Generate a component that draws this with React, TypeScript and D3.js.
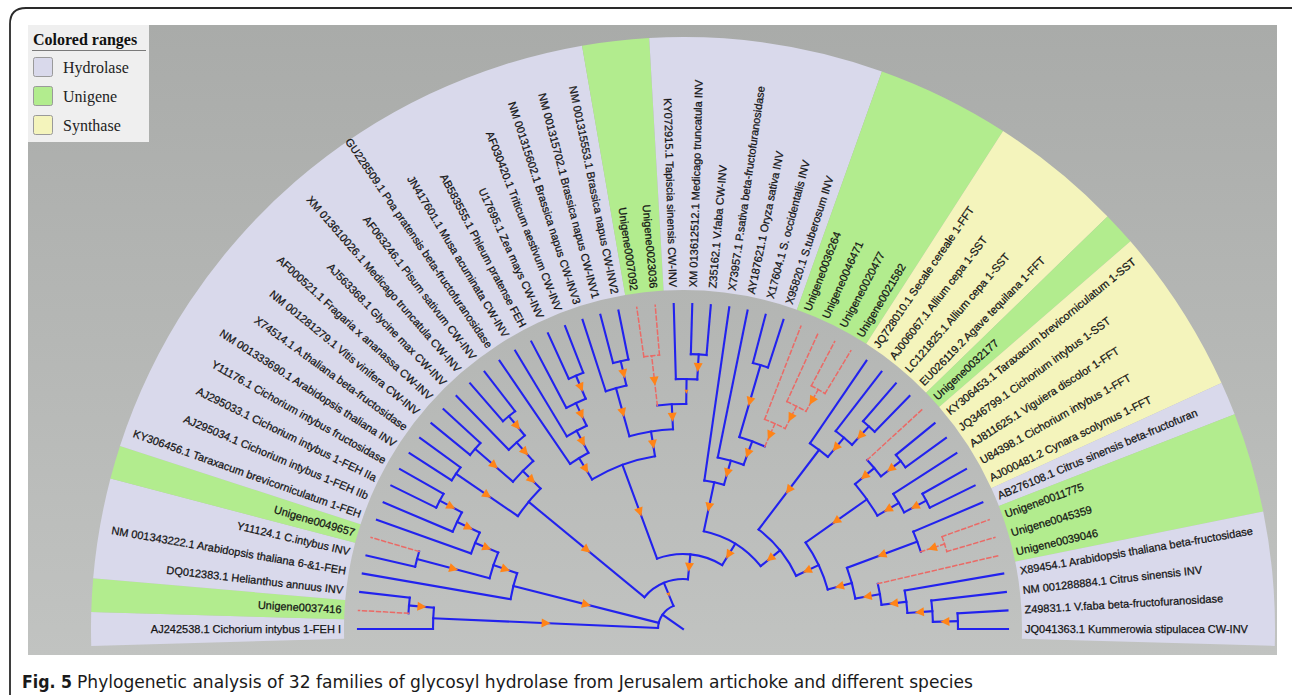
import React, { useMemo } from 'react';
import * as d3 from 'd3';

const W = 1292;
const H = 695;
const CX = 683;
const CY = 629;

// Leaf labels, in order around the fan (left horizontal -> over the top -> right horizontal)
const leafNames = [
  'AJ242538.1 Cichorium intybus 1-FEH I',
  'Unigene0037416',
  'DQ012383.1 Helianthus annuus INV',
  'NM 001343222.1 Arabidopsis thaliana 6-&1-FEH',
  'Y11124.1 C.intybus INV',
  'Unigene0049657',
  'KY306456.1 Taraxacum brevicorniculatum 1-FEH',
  'AJ295034.1 Cichorium intybus 1-FEH IIb',
  'AJ295033.1 Cichorium intybus 1-FEH IIa',
  'Y11176.1 Cichorium intybus fructosidase',
  'NM 001333690.1 Arabidopsis thaliana INV',
  'X74514.1 A.thaliana beta-fructosidase',
  'NM 001281279.1 Vitis vinifera CW-INV',
  'AF000521.1 Fragaria x ananassa CW-INV',
  'AJ563368.1 Glycine max CW-INV',
  'XM 013610026.1 Medicago truncatula CW-INV',
  'AF063246.1 Pisum sativum CW-INV',
  'GU228509.1 Poa pratensis beta-fructofuranosidase',
  'JN417601.1 Musa acuminata CW-INV',
  'AB583555.1 Phleum pratense FEH',
  'U17695.1 Zea mays CW-INV',
  'AF030420.1 Triticum aestivum CW-INV',
  'NM 001315602.1 Brassica napus CW-INV3',
  'NM 001315702.1 Brassica napus CW-INV1',
  'NM 001315553.1 Brassica napus CW-INV2',
  'Unigene0007092',
  'Unigene0023036',
  'KY072915.1 Tapiscia sinensis CW-INV',
  'XM 013612512.1 Medicago truncatula INV',
  'Z35162.1 V.faba CW-INV',
  'X73957.1 P.sativa beta-fructofuranosidase',
  'AY187621.1 Oryza sativa INV',
  'X17604.1 S. occidentalis INV',
  'X95820.1 S.tuberosum INV',
  'Unigene0036264',
  'Unigene0046471',
  'Unigene0020477',
  'Unigene0021582',
  'JQ728010.1 Secale cereale 1-FFT',
  'AJ006067.1 Allium cepa 1-SST',
  'LC121825.1 Allium cepa 1-SST',
  'EU026119.2 Agave tequilana 1-FFT',
  'Unigene0032177',
  'KY306453.1 Taraxacum brevicorniculatum 1-SST',
  'JQ346799.1 Cichorium intybus 1-SST',
  'AJ811625.1 Viguiera discolor 1-FFT',
  'U84398.1 Cichorium intybus 1-FFT',
  'AJ000481.2 Cynara scolymus 1-FFT',
  'AB276108.1 Citrus sinensis beta-fructofuran',
  'Unigene0011775',
  'Unigene0045359',
  'Unigene0039046',
  'X89454.1 Arabidopsis thaliana beta-fructosidase',
  'NM 001288884.1 Citrus sinensis INV',
  'Z49831.1 V.faba beta-fructofuranosidase',
  'JQ041363.1 Kummerowia stipulacea CW-INV',
];

// Colored-range class of every leaf (H = Hydrolase, U = Unigene, S = Synthase)
const leafRange = [
  'H', 'U', 'H', 'H', 'H', 'U', 'H', 'H', 'H', 'H',
  'H', 'H', 'H', 'H', 'H', 'H', 'H', 'H', 'H', 'H',
  'H', 'H', 'H', 'H', 'H', 'U', 'U', 'H', 'H', 'H',
  'H', 'H', 'H', 'H', 'U', 'U', 'U', 'U', 'S', 'S',
  'S', 'S', 'U', 'S', 'S', 'S', 'S', 'S', 'H', 'U',
  'U', 'U', 'H', 'H', 'H', 'H',
];

const rangeKeys = ['H', 'U', 'S'];
const rangeLabels = ['Hydrolase', 'Unigene', 'Synthase'];
const rangeFills = ['#d9d9eb', '#b2ec8e', '#f4f4bc'];

// Tree topology; numbers are 1-based leaf positions
const treeShape: any = [
  [1, [2, 3]],
  [4, [[5, 6], [7, [8, [9, 10]]]]],
  [
    [[11, 12], [[13, 14], [15, [16, 17]]]],
    [
      [[18, [19, [20, [21, 22]]]], [[23, [24, 25]], [[26, 27], [28, [29, 30]]]]],
      [
        [31, [32, [[33, 34], [35, [36, [37, 38]]]]]],
        [
          [39, [40, [41, 42]]],
          [
            [[43, [44, 45]], [46, [47, 48]]],
            [[49, [50, 51]], [52, [53, [54, [55, 56]]]]],
          ],
        ],
      ],
    ],
  ],
];

// Clades (first leaf, last leaf) whose support marker is drawn small
const weakNodes = [[28, 30], [11, 56]];

const captionLead = 'Fig. 5';
const captionText =
  'Phylogenetic analysis of 32 families of glycosyl hydrolase from Jerusalem artichoke and different species';

const TIP_R = 325;
const BAND_IN = 339;
const BAND_OUT = 592;
const LABEL_R = 342;

const BLUE = '#2222ee';
const RED = '#ea6a66';
const ORANGE = '#ff8418';

function polar(r: number, deg: number): [number, number] {
  const a = (deg * Math.PI) / 180;
  return [CX + r * Math.cos(a), CY - r * Math.sin(a)];
}

function arcPath(r: number, hi: number, lo: number) {
  const [x0, y0] = polar(r, hi);
  const [x1, y1] = polar(r, lo);
  const large = hi - lo > 180 ? 1 : 0;
  return `M${x0},${y0}A${r},${r} 0 ${large} 1 ${x1},${y1}`;
}

export default function App() {
  const layout = useMemo(() => {
    const n = leafNames.length;
    const angle = d3.scaleLinear().domain([1, n]).range([180, 0]);
    const step = 180 / (n - 1);

    const root: any = d3.hierarchy(treeShape, (d: any) => (Array.isArray(d) ? d : null));
    const radius = d3.scaleLinear().domain([root.height, 1]).range([25, 275]);

    root.eachAfter((node: any) => {
      if (!node.children) {
        node.theta = angle(node.data);
        node.r = TIP_R;
        node.lo = node.data;
        node.hi = node.data;
        node.uni = leafRange[node.data - 1] === 'U';
      } else {
        const ts = node.children.map((c: any) => c.theta);
        node.tMax = Math.max(...ts);
        node.tMin = Math.min(...ts);
        node.theta = (node.tMax + node.tMin) / 2;
        node.r = radius(node.height);
        node.lo = Math.min(...node.children.map((c: any) => c.lo));
        node.hi = Math.max(...node.children.map((c: any) => c.hi));
        node.uni = node.children.every((c: any) => c.uni);
      }
    });

    const nodes = root.descendants();
    const branches = nodes
      .filter((d: any) => d.parent)
      .map((d: any) => ({ a: polar(d.parent.r, d.theta), b: polar(d.r, d.theta), uni: d.uni }));
    const arcs = nodes
      .filter((d: any) => d.children)
      .map((d: any) => ({ d: arcPath(d.r, d.tMax, d.tMin), uni: d.uni }));
    const markers = nodes
      .filter((d: any) => d.children && d.parent)
      .map((d: any) => {
        const [x, y] = polar((d.r + d.parent.r) / 2, d.theta);
        const weak = weakNodes.some(([lo, hi]) => lo === d.lo && hi === d.hi);
        return { x, y, rot: 180 - d.theta, s: weak ? 0.45 : 1 };
      });
    const rootStub = { a: polar(root.r, root.theta), b: [CX, CY] as [number, number] };

    const groups: { key: string; start: number; end: number }[] = [];
    leafRange.forEach((k, i) => {
      const last = groups[groups.length - 1];
      if (last && last.key === k) last.end = i + 1;
      else groups.push({ key: k, start: i + 1, end: i + 1 });
    });
    const arcGen = d3.arc();
    const bands = groups.map((g) => {
      const hi = angle(g.start) + step / 2;
      const lo = angle(g.end) - step / 2;
      return {
        d: arcGen({
          innerRadius: BAND_IN,
          outerRadius: BAND_OUT,
          startAngle: ((90 - hi) * Math.PI) / 180,
          endAngle: ((90 - lo) * Math.PI) / 180,
        } as any) as string,
        fill: rangeFills[rangeKeys.indexOf(g.key)],
      };
    });

    const labels = leafNames.map((name, i) => ({ name, theta: angle(i + 1) }));
    return { branches, arcs, markers, rootStub, bands, labels };
  }, []);

  const { branches, arcs, markers, rootStub, bands, labels } = layout;

  return (
    <svg
      width={W}
      height={H}
      viewBox={`0 0 ${W} ${H}`}
      style={{ position: 'absolute', left: 0, top: 0, background: '#fff' }}
    >
      <defs>
        <linearGradient id="panelBg" x1="0" y1="0" x2="0" y2="1">
          <stop offset="0" stopColor="#a9aba9" />
          <stop offset="1" stopColor="#c1c3c1" />
        </linearGradient>
        <clipPath id="panelClip">
          <rect x={28} y={25} width={1249} height={630} />
        </clipPath>
      </defs>

      {/* figure frame */}
      <path d="M10,695 V24 Q10,8 26,8 H1292" fill="none" stroke="#2a2a2a" strokeWidth={1.8} />

      {/* plot panel */}
      <rect x={28} y={25} width={1249} height={630} fill="url(#panelBg)" />

      <g clipPath="url(#panelClip)">
        {bands.map((b, i) => (
          <path key={i} d={b.d} fill={b.fill} transform={`translate(${CX},${CY})`} />
        ))}

        {/* leaf labels */}
        <g
          fontFamily="'Liberation Sans', Arial, sans-serif"
          fontSize={11}
          fill="#141414"
          stroke="#141414"
          strokeWidth={0.25}
        >
          {labels.map((l, i) => {
            const left = l.theta > 90;
            return (
              <text
                key={i}
                transform={`translate(${CX},${CY}) rotate(${-l.theta}) translate(${LABEL_R},0)${left ? ' rotate(180)' : ''}`}
                textAnchor={left ? 'end' : 'start'}
                dy="0.36em"
              >
                {l.name}
              </text>
            );
          })}
        </g>

        {/* tree */}
        <g fill="none" strokeLinecap="square">
          {arcs.map((a, i) => (
            <path
              key={`a${i}`}
              d={a.d}
              stroke={a.uni ? RED : BLUE}
              strokeWidth={a.uni ? 1.5 : 2.1}
              strokeDasharray={a.uni ? '4 3' : undefined}
            />
          ))}
          {branches.map((b, i) => (
            <line
              key={`b${i}`}
              x1={b.a[0]}
              y1={b.a[1]}
              x2={b.b[0]}
              y2={b.b[1]}
              stroke={b.uni ? RED : BLUE}
              strokeWidth={b.uni ? 1.5 : 2.1}
              strokeDasharray={b.uni ? '4 3' : undefined}
            />
          ))}
          <line
            x1={rootStub.a[0]}
            y1={rootStub.a[1]}
            x2={rootStub.b[0]}
            y2={rootStub.b[1]}
            stroke={BLUE}
            strokeWidth={2.1}
          />
        </g>

        {/* branch support markers */}
        <g fill={ORANGE}>
          {markers.map((m, i) => (
            <polygon
              key={i}
              points="5,0 -4,-4.5 -4,4.5"
              transform={`translate(${m.x},${m.y}) rotate(${m.rot}) scale(${m.s})`}
            />
          ))}
        </g>
      </g>

      {/* legend */}
      <g>
        <rect x={28} y={25} width={121} height={117} fill="#efefef" />
        <text
          x={33}
          y={45}
          fontFamily="'Liberation Serif', 'Times New Roman', serif"
          fontWeight="bold"
          fontSize={16}
          fill="#111"
        >
          Colored ranges
        </text>
        <line x1={32} x2={146} y1={50.5} y2={50.5} stroke="#7a7a7a" strokeWidth={1} />
        {rangeLabels.map((lab, i) => (
          <g key={lab}>
            <rect
              x={33.5}
              y={57.5 + 29 * i}
              width={19}
              height={19}
              rx={2}
              fill={rangeFills[i]}
              stroke="#9a9a9a"
              strokeWidth={1}
            />
            <text
              x={63}
              y={73 + 29 * i}
              fontFamily="'Liberation Serif', 'Times New Roman', serif"
              fontSize={16}
              fill="#222"
            >
              {lab}
            </text>
          </g>
        ))}
      </g>

      {/* caption */}
      <text
        x={22}
        y={688}
        fontFamily="'Liberation Sans Narrow', 'DejaVu Sans Condensed', 'Liberation Sans', sans-serif"
        fontWeight="bold"
        fontSize={18}
        fill="#1a1a1a"
        textLength={50}
        lengthAdjust="spacingAndGlyphs"
      >
        {captionLead}
      </text>
      <text
        x={77}
        y={688}
        fontFamily="'Liberation Sans Narrow', 'DejaVu Sans Condensed', 'Liberation Sans', sans-serif"
        fontSize={18}
        fill="#1a1a1a"
        textLength={896}
        lengthAdjust="spacingAndGlyphs"
      >
        {captionText}
      </text>
    </svg>
  );
}
